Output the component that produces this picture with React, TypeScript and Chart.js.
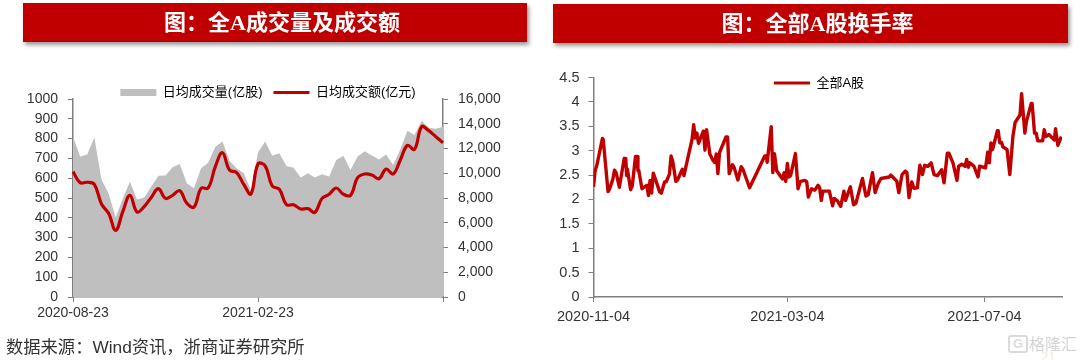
import React, { useEffect, useRef } from "react";
import { Chart, registerables } from "chart.js";

Chart.register(...registerables);

const titleLeft = "图：全A成交量及成交额";
const titleRight = "图：全部A股换手率";
const sourceText = "数据来源：Wind资讯，浙商证券研究所";

const volumeName = "日均成交量(亿股)";
const amountName = "日均成交额(亿元)";
const turnoverName = "全部A股";

const volumeValues = [
  810, 709, 720, 806, 594, 523, 402, 498, 582, 493, 502, 557, 613, 614, 655, 672, 574, 549,
  650, 678, 759, 785, 688, 650, 625, 540, 730, 785, 714, 726, 662, 653, 603, 625, 603, 620,
  609, 692, 714, 641, 709, 736, 715, 695, 720, 667, 745, 840, 818, 890, 855, 850, 860,
];
const amountValues = [
  10130, 9240, 9270, 9100, 7515, 6760, 5390, 6900, 8215, 6870, 7300, 8050, 8750, 7970, 8215,
  8590, 7570, 7270, 8780, 8810, 10530, 11660, 10260, 10050, 9100, 8320, 10750, 10590, 8970,
  8700, 7460, 7460, 7110, 7140, 6840, 7970, 8300, 8810, 8300, 8215, 9640, 9940, 9860, 9560,
  10340, 9940, 11070, 12250, 11930, 13760, 13440, 12950, 12470,
];
const volumeTickIndex = [0, 26, 52];
const volumeTickText = ["2020-08-23", "2021-02-23", ""];

const turnoverDays = [
  0, 1, 2, 5.5, 6, 9, 10, 12, 13, 14, 16, 19, 20, 20.5, 21, 23, 24, 26, 27, 27.5, 28, 30, 33,
  34, 35, 36, 37, 39, 41, 42, 44, 45, 47, 48, 49, 51, 52, 55, 56, 58, 61, 62, 63, 64, 65, 68,
  69, 70, 72, 74, 75, 76, 77, 78, 82, 83, 84, 86, 87, 89.4, 91.4, 92.5, 96.6, 106, 107, 107.5,
  110, 111, 112, 113.4, 117, 118, 119, 120, 121, 122, 125, 126.6, 128, 131, 132, 133, 135,
  137, 139, 140, 141, 142, 146, 148, 149, 151, 153, 155, 156, 159, 161, 162.4, 166.5, 168.6,
  170, 172.7, 174.3, 176.4, 178, 183, 184, 186.7, 187.7, 189, 191, 193, 194, 195.3, 197, 198.4,
  200.5, 202, 203.6, 205, 207, 209, 210.8, 213, 215.5, 217, 219, 220, 222.5, 225, 226, 228,
  230, 231, 232, 233, 235.5, 238, 239, 242.7, 244, 245, 246, 247, 250, 250.5, 251.5, 252.6,
  253.4, 256, 257.7, 259.6, 261, 264, 265, 267, 268, 271, 271.5, 273, 274, 275, 278, 279, 280,
  282, 284, 285.3, 286, 287.4, 289.6,
];
const turnoverRates = [
  2.26, 2.59, 2.69, 3.25, 3.23, 2.16, 2.22, 2.42, 2.6, 2.55, 2.25, 2.84, 2.84, 2.49, 2.62, 2.2,
  2.28, 2.88, 2.88, 2.59, 2.6, 2.22, 2.29, 2.08, 2.39, 2.13, 2.54, 2.35, 2.15, 2.13, 2.36, 2.36,
  2.52, 2.89, 2.79, 2.37, 2.4, 2.62, 2.49, 2.79, 3.23, 3.53, 3.26, 3.36, 3.15, 3.4, 3.01, 3.43,
  2.93, 2.8, 2.76, 2.93, 2.53, 2.96, 3.28, 3.28, 2.53, 2.71, 2.66, 2.4, 2.67, 2.62, 2.24, 2.89,
  2.89, 2.76, 3.49, 2.55, 2.94, 2.59, 2.42, 2.55, 2.37, 2.74, 2.46, 2.49, 2.94, 2.22, 2.37, 2.39,
  2.36, 2.05, 2.22, 2.19, 2.29, 2.24, 1.98, 2.17, 2.17, 1.87, 2.02, 1.97, 1.86, 2.17, 1.98, 2.26,
  1.89, 1.92, 2.43, 2.07, 2.1, 2.55, 2.14, 2.34, 2.43, 2.46, 2.5, 2.41, 2.38, 2.14, 2.51, 2.58,
  2.55, 2.04, 2.36, 2.23, 2.24, 2.7, 2.51, 2.7, 2.68, 2.75, 2.51, 2.49, 2.61, 2.34, 2.95, 2.95,
  2.75, 2.39, 2.68, 2.72, 2.68, 2.82, 2.66, 2.75, 2.68, 2.46, 2.68, 2.65, 2.97, 2.75, 3.16, 3.02,
  3.41, 3.41, 3.16, 3.17, 3.08, 3.02, 2.51, 3.29, 3.58, 3.73, 4.17, 3.36, 3.6, 3.97, 3.97, 3.36,
  3.36, 3.2, 3.2, 3.43, 3.29, 3.33, 3.26, 3.22, 3.45, 3.11, 3.29,
];
const turnoverTickDays = [0, 120, 242];
const turnoverTickText = ["2020-11-04", "2021-03-04", "2021-07-04"];

const RED = "#C00000";
const GREY = "#BFBFBF";
const AXIS = "#7F7F7F";
const TEXT = "#333333";
const LEGEND_TEXT = "#4D4D4D";
const SANS = "'Liberation Sans', 'Noto Sans CJK SC', sans-serif";

const placeLegend = (id: string, cx: number, cy: number) => ({
  id,
  afterLayout(chart: any) {
    const l = chart.legend;
    if (!l) return;
    const w = l.width;
    const h = l.height;
    l.left = cx - w / 2;
    l.right = cx + w / 2;
    l.top = cy - h / 2;
    l.bottom = cy + h / 2;
  },
});

const legendLabels = (gap: number) => ({
  usePointStyle: true,
  pointStyleWidth: 36,
  padding: gap,
  color: LEGEND_TEXT,
  font: { family: SANS, size: 13 },
  generateLabels: (chart: any) =>
    chart.data.datasets
      .map((d: any, i: number) => ({
        text: d.label,
        datasetIndex: i,
        fillStyle: d.legendColor,
        strokeStyle: d.legendColor,
        lineWidth: d.legendWidth,
        pointStyle: "line",
        order: d.legendOrder,
      }))
      .sort((a: any, b: any) => a.order - b.order),
});

const axisGrid = (len: number) => ({
  display: true,
  drawOnChartArea: false,
  drawTicks: true,
  tickLength: len,
  color: AXIS,
  lineWidth: 1,
});
const axisBorder = { display: true, color: AXIS, width: 1.5 };

function LeftChart() {
  const ref = useRef<HTMLCanvasElement>(null);
  useEffect(() => {
    const labels = volumeValues.map((_, i) => String(i));
    const chart = new Chart(ref.current!, {
      type: "line",
      data: {
        labels,
        datasets: [
          {
            label: amountName,
            data: amountValues,
            yAxisID: "y2",
            borderColor: RED,
            borderWidth: 3.2,
            pointRadius: 0,
            tension: 0.4,
            fill: false,
            order: 1,
            legendColor: RED,
            legendWidth: 3,
            legendOrder: 2,
          } as any,
          {
            label: volumeName,
            data: volumeValues,
            yAxisID: "y",
            borderColor: GREY,
            backgroundColor: GREY,
            borderWidth: 0,
            pointRadius: 0,
            tension: 0,
            fill: "origin",
            order: 2,
            legendColor: GREY,
            legendWidth: 7,
            legendOrder: 1,
          } as any,
        ],
      },
      options: {
        animation: false,
        responsive: false,
        layout: { padding: { top: 65, left: 0, right: 0, bottom: 0 } },
        plugins: {
          legend: { position: "top", labels: legendLabels(11) as any },
          tooltip: { enabled: false },
        },
        scales: {
          x: {
            type: "category",
            offset: false,
            border: axisBorder,
            grid: axisGrid(5),
            afterBuildTicks: (s: any) => {
              s.ticks = volumeTickIndex.map((v) => ({ value: v }));
            },
            afterFit: (s: any) => {
              s.height = 63;
            },
            ticks: {
              autoSkip: false,
              maxRotation: 0,
              padding: 3,
              color: TEXT,
              font: { family: SANS, size: 14 },
              callback: (v: any) => volumeTickText[volumeTickIndex.indexOf(Number(v))] ?? "",
            },
          },
          y: {
            position: "left",
            min: 0,
            max: 1000,
            border: axisBorder,
            grid: axisGrid(5),
            afterFit: (s: any) => {
              s.width = 73;
            },
            ticks: {
              stepSize: 100,
              padding: 10,
              color: TEXT,
              font: { family: SANS, size: 14 },
              callback: (v: any) => String(v),
            },
          },
          y2: {
            position: "right",
            min: 0,
            max: 16000,
            border: axisBorder,
            grid: axisGrid(5),
            afterFit: (s: any) => {
              s.width = 67;
            },
            ticks: {
              stepSize: 2000,
              padding: 10,
              color: TEXT,
              font: { family: SANS, size: 14 },
              callback: (v: any) => Number(v).toLocaleString("en-US"),
            },
          },
        },
      },
      plugins: [placeLegend("placeLeft", 268, 92)],
    } as any);
    return () => chart.destroy();
  }, []);
  return (
    <canvas
      ref={ref}
      width={510}
      height={360}
      style={{ position: "absolute", left: 0, top: 0, width: 510, height: 360 }}
    />
  );
}

function RightChart() {
  const ref = useRef<HTMLCanvasElement>(null);
  useEffect(() => {
    const chart = new Chart(ref.current!, {
      type: "line",
      data: {
        datasets: [
          {
            label: turnoverName,
            data: turnoverDays.map((d, i) => ({ x: d, y: turnoverRates[i] })),
            borderColor: RED,
            borderWidth: 3.4,
            pointRadius: 0,
            tension: 0,
            borderJoinStyle: "round",
            fill: false,
            legendColor: RED,
            legendWidth: 3,
            legendOrder: 1,
          } as any,
        ],
      },
      options: {
        animation: false,
        responsive: false,
        layout: { padding: { top: 44.5, left: 0, right: 18, bottom: 0 } },
        plugins: {
          legend: { position: "top", labels: legendLabels(10) as any },
          tooltip: { enabled: false },
        },
        scales: {
          x: {
            type: "linear",
            min: 0,
            max: 290,
            border: axisBorder,
            grid: axisGrid(5),
            afterBuildTicks: (s: any) => {
              s.ticks = turnoverTickDays.map((v) => ({ value: v }));
            },
            afterFit: (s: any) => {
              s.height = 63;
            },
            ticks: {
              autoSkip: false,
              maxRotation: 0,
              padding: 6,
              color: TEXT,
              font: { family: SANS, size: 14.5 },
              callback: (v: any) => turnoverTickText[turnoverTickDays.indexOf(Number(v))] ?? "",
            },
          },
          y: {
            position: "left",
            min: 0,
            max: 4.5,
            border: axisBorder,
            grid: axisGrid(5),
            afterFit: (s: any) => {
              s.width = 53.5;
            },
            ticks: {
              stepSize: 0.5,
              padding: 9,
              color: TEXT,
              font: { family: SANS, size: 14.5 },
              callback: (v: any) => String(v),
            },
          },
        },
      },
      plugins: [placeLegend("placeRight", 279, 83)],
    } as any);
    return () => chart.destroy();
  }, []);
  return (
    <canvas
      ref={ref}
      width={540}
      height={360}
      style={{ position: "absolute", left: 540, top: 0, width: 540, height: 360 }}
    />
  );
}

function Banner({ text, left, top, width, height }: any) {
  return (
    <div
      style={{
        position: "absolute",
        left,
        top,
        width,
        height,
        background: RED,
        boxShadow: "2px 3px 4px rgba(0,0,0,0.4)",
        color: "#fff",
        fontFamily: "'Liberation Serif', 'Noto Sans CJK SC', serif",
        fontWeight: 700,
        fontSize: 22,
        lineHeight: `${height}px`,
        textAlign: "center",
        paddingLeft: 14,
        boxSizing: "border-box",
      }}
    >
      {text}
    </div>
  );
}

export default function App() {
  useEffect(() => {
    document.body.style.margin = "0";
    document.body.style.background = "#fff";
  }, []);
  return (
    <div
      style={{
        position: "absolute",
        left: 0,
        top: 0,
        width: 1080,
        height: 360,
        overflow: "hidden",
        background: "#fff",
      }}
    >
      <LeftChart />
      <RightChart />
      <Banner text={titleLeft} left={23} top={3} width={504} height={39} />
      <Banner text={titleRight} left={553} top={4} width={515} height={39} />
      <div
        style={{
          position: "absolute",
          left: 6,
          top: 336,
          fontFamily: SANS,
          fontSize: 17.3,
          lineHeight: "22px",
          color: TEXT,
          whiteSpace: "nowrap",
        }}
      >
        {sourceText}
      </div>
      <div
        style={{
          position: "absolute",
          left: 1008,
          top: 335,
          width: 16,
          height: 14,
          border: "2px solid #DADADA",
          borderRadius: 3,
          color: "#DADADA",
          fontFamily: SANS,
          fontWeight: 700,
          fontSize: 13,
          lineHeight: "14px",
          textAlign: "center",
        }}
      >
        G
      </div>
      <div
        style={{
          position: "absolute",
          left: 1029,
          top: 332,
          fontFamily: "'Noto Sans CJK SC', sans-serif",
          fontSize: 16,
          lineHeight: "22px",
          color: "#D4D4D4",
          whiteSpace: "nowrap",
        }}
      >
        格隆汇
      </div>
      <div
        style={{
          position: "absolute",
          left: 1041,
          top: 350,
          fontFamily: SANS,
          fontSize: 13,
          lineHeight: "14px",
          color: "#EFEBDD",
        }}
      >
        21
      </div>
    </div>
  );
}
